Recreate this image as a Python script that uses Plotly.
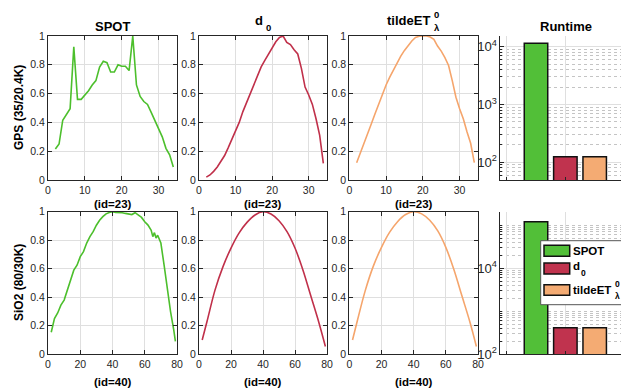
import plotly.graph_objects as go

# ---------------- data ----------------
gps_x = list(range(2, 35))
gps_spot = [0.215, 0.25, 0.415, 0.46, 0.495, 0.925, 0.56, 0.56, 0.59, 0.62, 0.66, 0.69,
            0.785, 0.825, 0.815, 0.75, 0.75, 0.80, 0.79, 0.79, 0.76, 1.0, 0.66, 0.58,
            0.545, 0.525, 0.47, 0.415, 0.36, 0.30, 0.22, 0.175, 0.09]
gps_d0 = [0.02, 0.035, 0.06, 0.09, 0.13, 0.17, 0.225, 0.28, 0.34, 0.40, 0.475, 0.535,
          0.60, 0.665, 0.72, 0.785, 0.83, 0.875, 0.925, 0.96, 0.99, 1.0, 0.955, 0.94,
          0.905, 0.875, 0.775, 0.645, 0.59, 0.525, 0.425, 0.31, 0.115]
gps_tilde = [0.12, 0.185, 0.255, 0.325, 0.39, 0.46, 0.53, 0.595, 0.66, 0.715, 0.765, 0.815,
             0.86, 0.90, 0.935, 0.965, 0.99, 0.998, 1.0, 1.0, 0.993, 0.977, 0.93, 0.895,
             0.85, 0.795, 0.69, 0.575, 0.495, 0.425, 0.335, 0.255, 0.12]

sio2_spot_x = [2, 3, 4, 6, 8, 10, 12, 14, 16, 18, 20, 22, 24, 26, 28, 30, 32, 34, 36, 38,
               40, 42, 44, 46, 48, 50, 52, 54, 56, 58, 60, 62, 64, 65, 66, 67, 68, 69, 70,
               72, 74, 76, 78, 79]
sio2_spot = [0.155, 0.195, 0.25, 0.29, 0.345, 0.38, 0.45, 0.53, 0.59, 0.625, 0.685, 0.72,
             0.78, 0.825, 0.86, 0.905, 0.94, 0.965, 0.985, 0.995, 1.0, 0.995, 0.995, 0.993,
             0.988, 0.984, 0.98, 0.993, 0.977, 0.96, 0.93, 0.906, 0.87, 0.825, 0.853, 0.815,
             0.835, 0.80, 0.78, 0.625, 0.45, 0.30, 0.17, 0.09]
sio2_x = [2, 5, 10, 15, 20, 25, 30, 35, 40, 45, 50, 55, 60, 65, 70, 75, 79]
sio2_d0 = [0.10, 0.23, 0.45, 0.615, 0.745, 0.85, 0.925, 0.977, 1.0, 0.984, 0.937, 0.86,
           0.745, 0.59, 0.405, 0.22, 0.055]
sio2_tilde = [0.10, 0.235, 0.45, 0.62, 0.75, 0.855, 0.93, 0.98, 1.0, 0.985, 0.94, 0.865,
              0.75, 0.595, 0.41, 0.225, 0.055]

methods = ["SPOT", "d0", "tildeET0λ"]
method_pos = [1, 2, 3]
runtime_gps = [11500, 125, 125]
runtime_sio2 = [121000, 417, 417]

colors = ["#52bf38", "#c0334e", "#f4ab73"]
line_colors = ["#4cbf2c", "#c0304a", "#f5a56c"]

# the page body has an 8px margin, so the figure sits at (8, 8) in the window
OFF = 8
FW, FH = 629 - OFF, 391 - OFF
FONT = "Liberation Sans"
AX = "#262626"
GRID = "#dfdfdf"

def px(x):
    return (x - OFF) / FW

def py(y):
    return 1 - (y - OFF) / FH

fig = go.Figure()

xdom = [[px(48), px(177)], [px(199), px(327)], [px(349.3), px(478)], [px(500), 1.0]]
ydom = [[py(180), py(36)], [py(354.3), py(211.7)]]
# runtime x range: x=0 at 506.65 px, 29.35 px per unit, panel right edge at 629
rt_xr = [-(506.65 - 500) / 29.35, (629 - 506.65) / 29.35]

rows = [
    ([gps_spot, gps_d0, gps_tilde], [gps_x, gps_x, gps_x], "linear", [0, 35], [0, 10, 20, 30]),
    ([sio2_spot, sio2_d0, sio2_tilde], [sio2_spot_x, sio2_x, sio2_x], "spline", [0, 80], [0, 20, 40, 60, 80]),
]

tickfont = dict(family=FONT, size=10.5, color=AX)
layout_axes = {}
ax_id = 0
for r, (ys, xs, shp, xr, xt) in enumerate(rows):
    for c in range(3):
        ax_id += 1
        sfx = "" if ax_id == 1 else str(ax_id)
        shape = "linear" if c == 0 else shp
        fig.add_trace(go.Scatter(x=xs[c], y=ys[c], mode="lines",
                                 line=dict(color=line_colors[c], width=1.6, shape=shape),
                                 showlegend=False, xaxis="x" + sfx, yaxis="y" + sfx))
        layout_axes["xaxis" + sfx] = dict(domain=xdom[c], anchor="y" + sfx, range=xr,
                                          tickvals=xt, showline=True, linecolor=AX, mirror="ticks",
                                          ticks="inside", ticklen=4, tickcolor=AX, showgrid=True,
                                          gridcolor=GRID, zeroline=False, tickfont=tickfont,
                                          automargin=False)
        layout_axes["yaxis" + sfx] = dict(domain=ydom[r], anchor="x" + sfx, range=[0, 1],
                                          tickvals=[0, 0.2, 0.4, 0.6, 0.8, 1],
                                          ticktext=["0", "0.2", "0.4", "0.6", "0.8", "1"],
                                          showline=True, linecolor=AX, mirror="ticks",
                                          ticks="inside", ticklen=4, tickcolor=AX, showgrid=True,
                                          gridcolor=GRID, zeroline=False, tickfont=tickfont,
                                          automargin=False)
    # runtime panel
    ax_id += 1
    sfx = str(ax_id)
    rt = runtime_gps if r == 0 else runtime_sio2
    for m in range(3):
        fig.add_trace(go.Bar(x=[method_pos[m]], y=[rt[m]], width=0.8, name=methods[m],
                             marker=dict(color=colors[m], line=dict(color="#111111", width=1.5)),
                             showlegend=False, xaxis="x" + sfx, yaxis="y" + sfx))
    layout_axes["xaxis" + sfx] = dict(domain=xdom[3], anchor="y" + sfx, range=rt_xr,
                                      tickvals=[0, 2, 4], showticklabels=False, showline=True,
                                      linecolor=AX, ticks="inside", ticklen=3, tickcolor=AX,
                                      showgrid=True, gridcolor=GRID, zeroline=False,
                                      automargin=False)
    if r == 0:
        yr = [1.694, 4.185]
        dt = 1
    else:
        yr = [2.0, 5.316]
        dt = 2
    layout_axes["yaxis" + sfx] = dict(domain=ydom[r], anchor="x" + sfx, type="log", range=yr,
                                      dtick=dt, tick0=0, exponentformat="power",
                                      showline=True, linecolor=AX, ticks="inside", ticklen=4,
                                      tickcolor=AX, showgrid=True, gridcolor=GRID, zeroline=False,
                                      tickfont=tickfont, automargin=False,
                                      minor=dict(dtick="D1", ticks="inside", ticklen=2,
                                                 tickcolor=AX, showgrid=True, griddash="dot",
                                                 gridcolor="#c4c4c4", gridwidth=1))

fig.update_layout(**layout_axes)

ann = []
shapes = []
def A(text, x, y, size=13, xanchor="center", yanchor="middle", angle=0):
    ann.append(dict(text=text, x=px(x), y=py(y), xref="paper", yref="paper",
                    showarrow=False, xanchor=xanchor, yanchor=yanchor, textangle=angle,
                    font=dict(family=FONT, size=size, color="#000000")))

A("<b>SPOT</b>", 112.5, 26)
A("<b>d</b>", 264.5, 20.5, xanchor="right")
A("<b>0</b>", 264, 27, size=9.5, xanchor="left")
A("<b>tildeET</b>", 432, 20.5, xanchor="right")
A("<b>0</b>", 431.5, 15, size=9.5, xanchor="left")
A("<b>λ</b>", 431.5, 27.5, size=9.5, xanchor="left")
A("<b>Runtime</b>", 566, 26)
A("<b>GPS (35/20.4K)</b>", 19, 108, size=12, angle=-90)
A("<b>SiO2 (80/30K)</b>", 19, 283, size=12, angle=-90)
for cx in [112.5, 263, 413.7]:
    A("<b>(id=23)</b>", cx, 204, size=11.5)
    A("<b>(id=40)</b>", cx, 382, size=11.5)

# legend (drawn as in the reference: stacked super/subscript)
def R(x0, y0, x1, y1, fill, line, lw):
    shapes.append(dict(type="rect", xref="paper", yref="paper", x0=px(x0), x1=px(x1),
                       y0=py(y1), y1=py(y0), fillcolor=fill,
                       line=dict(color=line, width=lw), layer="above"))

R(540.7, 240.7, 624, 304.7, "white", "#555555", 1)
R(544, 245.3, 569.7, 256.3, colors[0], "#111111", 1.5)
R(544, 263, 569.7, 274, colors[1], "#111111", 1.5)
R(544, 284.7, 569.7, 295.3, colors[2], "#111111", 1.5)
A("<b>SPOT</b>", 571.3, 251.3, size=11.5, xanchor="left")
A("<b>d</b>", 571.3, 266.3, size=11.5, xanchor="left")
A("<b>0</b>", 579, 273, size=8.5, xanchor="left")
A("<b>tildeET</b>", 571.3, 289.7, size=11.5, xanchor="left")
A("<b>0</b>", 613, 284, size=8.5, xanchor="left")
A("<b>λ</b>", 613, 295.5, size=8.5, xanchor="left")

fig.update_layout(
    width=FW, height=FH, autosize=False,
    margin=dict(l=0, r=0, t=0, b=0),
    paper_bgcolor="white", plot_bgcolor="white",
    barmode="overlay",
    annotations=ann,
    shapes=shapes,
    showlegend=False,
    font=dict(family=FONT),
)

fig.write_html("out.html")
